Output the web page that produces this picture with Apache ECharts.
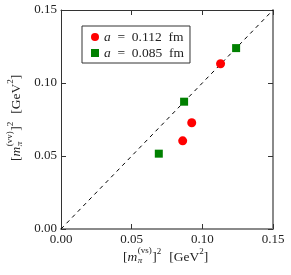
<!DOCTYPE html>
<html><head><meta charset="utf-8">
<script src="https://cdn.jsdelivr.net/npm/echarts@6/dist/echarts.min.js"></script>
<style>html,body{margin:0;padding:0;background:#fff}#c{width:291px;height:275px}</style>
</head><body><div id="c"></div>
<script>
// ---- data ----
const axisMin = 0, axisMax = 0.15, axisStep = 0.05;
const seriesNames = ['a = 0.112 fm', 'a = 0.085 fm'];
const redX = [0.1129, 0.0925, 0.0861];
const redY = [0.1132, 0.0728, 0.0604];
const greenX = [0.1239, 0.0871, 0.0692];
const greenY = [0.1239, 0.0872, 0.0516];
const diagX = [0, 0.15];
const diagY = [0, 0.15];
const xTitleParts = {sub: 'π', sup: '(vs)'};
const yTitleParts = {sub: 'π', sup: '(vv)'};

const FONT = '"Liberation Serif", "DejaVu Serif", serif';
const zip = (a, b) => a.map((v, i) => [v, b[i]]);

const ctx = document.createElement('canvas').getContext('2d');
function tw(t, size, italic) { ctx.font = (italic ? 'italic ' : '') + size + 'px ' + FONT; return ctx.measureText(t).width; }

function buildTitle(parts) {
  const F = 13.5, S = 9, kids = [];
  let x = 0;
  function put(t, size, italic, dy) {
    kids.push({type: 'text', x: x, y: dy, style: {text: t, fontSize: size, fontStyle: italic ? 'italic' : 'normal',
      fontFamily: FONT, fill: '#222', align: 'left', verticalAlign: 'middle'}});
    return tw(t, size, italic);
  }
  x += put('[', F, false, 0);
  x += put('m', F, true, 0) + 0.5;
  const a = put(parts.sub, S, true, 4);
  const b = put(parts.sup, S, false, -6);
  x += Math.max(a, b) + 0.5;
  x += put(']', F, false, 0);
  x += put('2', S, false, -5);
  x += 8;
  x += put('[GeV', F, false, 0);
  x += put('2', S, false, -5);
  x += put(']', F, false, 0);
  return kids;
}

const chart = echarts.init(document.getElementById('c'), null, {renderer: 'canvas'});
const labelStyle = {fontFamily: FONT, fontSize: 13, color: '#222', formatter: v => v.toFixed(2)};
function axis(pos, showLabel, lineColor, lineWidth) {
  return {
    type: 'value', position: pos, min: axisMin, max: axisMax, interval: axisStep,
    axisLine: {show: true, onZero: false, lineStyle: {color: lineColor, width: lineWidth}},
    axisTick: {show: true, inside: true, length: 5, lineStyle: {color: '#333', width: 1}},
    axisLabel: Object.assign({show: showLabel, margin: 4}, labelStyle),
    splitLine: {show: false}
  };
}
chart.setOption({
  animation: false,
  backgroundColor: '#fff',
  grid: {left: 61, top: 10, right: 18, bottom: 46, containLabel: false},
  xAxis: [axis('bottom', true, '#8a8a8a', 2), axis('top', false, '#333', 1)],
  yAxis: [axis('left', true, '#333', 1), axis('right', false, '#8a8a8a', 2)],
  legend: {
    orient: 'vertical', left: 82, top: 26, data: [{name: seriesNames[0], icon: 'circle'}, {name: seriesNames[1], icon: 'rect'}],
    borderColor: '#333', borderWidth: 1, borderRadius: 0, padding: [4, 6, 3, 9],
    itemWidth: 8, itemHeight: 8, itemGap: 2,
    formatter: n => '{i|' + n.slice(0, 1) + '}{t|' + n.slice(1).replace(' = ', '  =  ').replace(' fm', '  fm') + '}',
    textStyle: {fontFamily: FONT, fontSize: 13.5, color: '#222', lineHeight: 13,
      rich: {i: {fontStyle: 'italic', fontFamily: FONT, fontSize: 13.5, color: '#222'},
             t: {fontFamily: FONT, fontSize: 13.5, color: '#222'}}}
  },
  series: [
    {type: 'line', data: zip(diagX, diagY), showSymbol: false, symbol: 'none', z: 1, silent: true,
     lineStyle: {color: '#000', width: 1, type: [4, 4]}},
    {name: seriesNames[0], type: 'scatter', data: zip(redX, redY), symbol: 'circle', symbolSize: 9,
     itemStyle: {color: '#ff0000', opacity: 1}, z: 3},
    {name: seriesNames[1], type: 'scatter', data: zip(greenX, greenY), symbol: 'rect', symbolSize: 8,
     itemStyle: {color: '#008000', opacity: 1}, z: 3}
  ],
  graphic: [
    {type: 'group', x: 123, y: 257, children: buildTitle(xTitleParts)},
    {type: 'group', x: 16, y: 161, rotation: Math.PI / 2, children: buildTitle(yTitleParts)}
  ]
});
</script></body></html>
